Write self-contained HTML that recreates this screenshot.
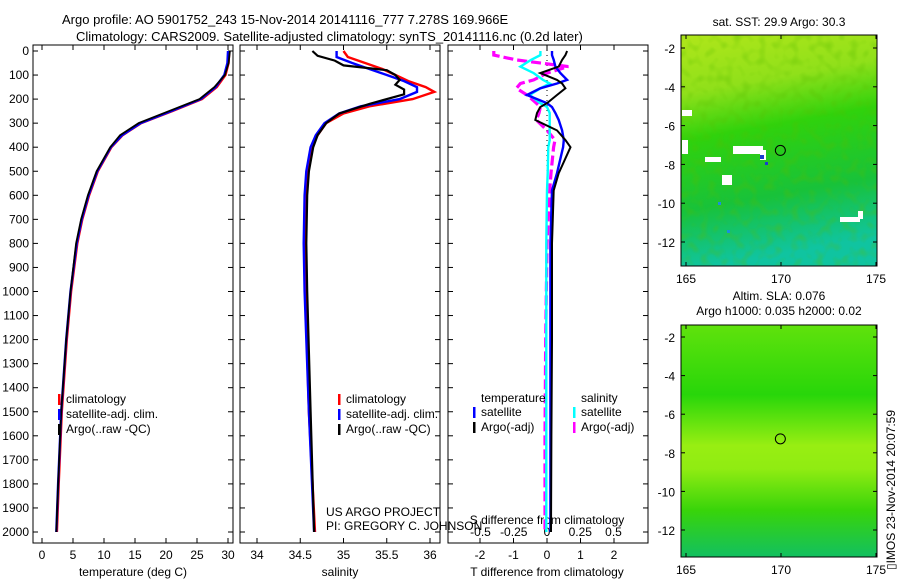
<!DOCTYPE html>
<html><head><meta charset="utf-8"><style>
body{margin:0;background:#fff;}
svg{display:block;font-family:"Liberation Sans",sans-serif;}
text{font-size:12px;fill:#000;}
</style></head><body>
<svg id="c" width="900" height="580" viewBox="0 0 900 580" xmlns="http://www.w3.org/2000/svg">
<defs>
<linearGradient id="g1" x1="0" y1="0" x2="0.15" y2="1">
<stop offset="0" stop-color="#b0e61a"/><stop offset="0.25" stop-color="#90e01a"/><stop offset="0.45" stop-color="#30d20c"/><stop offset="0.75" stop-color="#18c23a"/><stop offset="1" stop-color="#10c4a0"/>
</linearGradient>
<linearGradient id="g2" x1="0" y1="0" x2="0" y2="1">
<stop offset="0" stop-color="#60e20c"/><stop offset="0.3" stop-color="#28d60a"/><stop offset="0.52" stop-color="#98ee12"/><stop offset="0.62" stop-color="#90ec12"/><stop offset="0.8" stop-color="#38d40a"/><stop offset="1" stop-color="#12c060"/>
</linearGradient>
<filter id="noise" x="0" y="0" width="100%" height="100%">
<feTurbulence type="fractalNoise" baseFrequency="0.12" numOctaves="1" seed="3"/>
<feColorMatrix type="matrix" values="0 0 0 0 0.1  0 0 0 0 0.5  0 0 0 0 0  0 0 0 1.6 -0.75"/>
<feComposite in2="SourceGraphic" operator="in"/>
</filter>
</defs>
<text x="62" y="24" style="font-size:13px">Argo profile: AO 5901752_243 15-Nov-2014 20141116_777 7.278S 169.966E</text>
<text x="76" y="41" style="font-size:13px">Climatology: CARS2009. Satellite-adjusted climatology: synTS_20141116.nc (0.2d later)</text>
<g id="p1"></g>
<g id="p2"></g>
<g id="p3"></g>
<g id="m1"></g>
<g id="m2"></g>
<text transform="translate(895,570) rotate(-90)" style="font-size:12px">▯IMOS 23-Nov-2014 20:07:59</text>
</svg>
<script>
const NS="http://www.w3.org/2000/svg";
const svg=document.getElementById('c');
// ---- data ----
const tempDepths=[0,50,100,150,200,250,300,350,400,500,600,700,800,1000,1200,1500,1800,2000];
const tempClim=[30.2,30.1,29.6,28.2,25.8,21,16,13,11.2,9,7.6,6.5,5.7,4.7,4,3.2,2.7,2.4];
const tempSat=[30.0,29.9,29.4,28,25.6,20.8,15.9,12.9,11.1,8.9,7.5,6.4,5.6,4.6,3.9,3.1,2.6,2.3];
const tempArgo=[30.3,30.1,29.5,27.8,25.4,20.5,15.6,12.6,11,8.8,7.4,6.3,5.5,4.6,3.9,3.1,2.6,2.3];
const salDepths=[0,25,50,75,100,125,150,170,200,230,260,300,350,400,500,600,800,1000,1500,2000];
const salClim=[35.0,35.05,35.25,35.45,35.6,35.75,35.95,36.05,35.8,35.3,35.0,34.8,34.7,34.63,34.58,34.56,34.55,34.56,34.6,34.67];
const salSat=[34.92,34.92,35.1,35.3,35.5,35.7,35.85,35.85,35.65,35.2,34.95,34.78,34.68,34.62,34.57,34.55,34.54,34.55,34.6,34.66];
const salArgoDepths=[0,20,40,60,80,100,120,140,160,180,220,260,300,350,400,500,600,800,1000,1500,2000];
const salArgo=[34.64,34.7,34.9,35.0,35.5,35.6,35.65,35.6,35.7,35.7,35.3,34.95,34.8,34.7,34.65,34.6,34.58,34.57,34.58,34.62,34.66];
const dDepths=[0,17,37,65,92,120,135,155,183,217,233,258,287,330,370,400,508,580,800,1200,1600,2000];
const dTsat=[0.15,0.15,0.2,0.25,0.4,0.6,0.3,-0.2,-0.6,0,0.15,0.25,0.35,0.45,0.5,0.48,0.3,0.15,0.1,0.1,0.1,0.1];
const dTargo=[0.6,0.55,0.45,0.35,-0.2,0.3,0.45,0.55,0.3,0,-0.2,-0.3,-0.35,0.3,0.55,0.7,0.35,0.2,0.15,0.15,0.13,0.12];
const dSsat=[-0.05,-0.05,-0.12,-0.2,-0.1,-0.03,0.02,-0.05,-0.13,-0.05,0,0.02,0.02,0.02,0.02,0.01,0.005,0,-0.005,-0.005,-0.005,-0.005];
const dSargo=[-0.4,-0.4,-0.23,0.16,0,-0.1,-0.2,-0.23,-0.15,-0.08,-0.05,-0.06,-0.08,0,0.06,0.05,0.03,0.02,0,-0.01,-0.015,-0.015];
const depthTicks=[0,100,200,300,400,500,600,700,800,900,1000,1100,1200,1300,1400,1500,1600,1700,1800,1900,2000];
const tempTicks=[0,5,10,15,20,25,30];
const salTicks=[34,34.5,35,35.5,36];
const tdTicks=[-2,-1,0,1,2];
const sdTicks=[-0.5,-0.25,0,0.25,0.5];
const sdTickLabels=["-0.5","-0.25","0","0.25","0.5"];
const lonTicks=[165,170,175];
const latTicks=[-2,-4,-6,-8,-10,-12];
const argoLon=169.966, argoLat=-7.278;
// ---- scales ----
const Y0=45,Y1=543;
const yD=d=>51+d*0.2405;
const xT=t=>42+t*6.2;
const xS=s=>257+(s-34)*86.5;
const xTD=t=>547+t*33.5;
const xSD=s=>547+s*133;
function el(tag,attrs,parent,txt){const e=document.createElementNS(NS,tag);for(const k in attrs)e.setAttribute(k,attrs[k]);if(txt!==undefined)e.textContent=txt;(parent||svg).appendChild(e);return e;}
function line(xs,ds,fx,color,g,dash,w){let p=xs.map((v,i)=>fx(v).toFixed(1)+','+yD(ds[i]).toFixed(1)).join(' ');
const e=el('polyline',{points:p,fill:'none',stroke:color,'stroke-width':w||2.4},g);if(dash)e.setAttribute('stroke-dasharray',dash);return e;}
function frame(g,x0,x1){el('rect',{x:x0,y:Y0,width:x1-x0,height:Y1-Y0,fill:'none',stroke:'#000','stroke-width':1},g);}
function xticks(g,vals,fx,labels,y){vals.forEach((v,i)=>{const x=fx(v);
const t1=el('line',{x1:x,x2:x,y1:Y0,y2:Y0+5,stroke:'#000'},g);
el('line',{x1:x,x2:x,y1:Y1,y2:Y1-5,stroke:'#000'},g);
const t=el('text',{x:x,y:y,'text-anchor':'middle'},g,labels?labels[i]:String(v));});}
function legend(g,x,y,items){items.forEach((it,i)=>{el('rect',{x:x,y:y+i*15-9,width:2.5,height:11,fill:it[0]},g);
const t=el('text',{x:x+8,y:y+i*15},g,it[1]);});}
// panel 1
const g1=document.getElementById('p1');frame(g1,33,233);
depthTicks.forEach(d=>{const y=yD(d);el('line',{x1:33,x2:38,y1:y,y2:y,stroke:'#000'},g1);el('line',{x1:233,x2:228,y1:y,y2:y,stroke:'#000'},g1);
const t=el('text',{x:29,y:y+4,'text-anchor':'end'},g1,String(d));});
xticks(g1,tempTicks,xT,null,559);
el('text',{x:133,y:576,'text-anchor':'middle'},g1,'temperature (deg C)');
line(tempClim,tempDepths,xT,'#f00',g1);line(tempSat,tempDepths,xT,'#00f',g1);line(tempArgo,tempDepths,xT,'#000',g1,null,1.8);
legend(g1,58,403,[['#f00','climatology'],['#00f','satellite-adj. clim.'],['#000','Argo(..raw -QC)']]);
// panel 2
const g2=document.getElementById('p2');frame(g2,240,440);
depthTicks.forEach(d=>{const y=yD(d);el('line',{x1:240,x2:245,y1:y,y2:y,stroke:'#000'},g2);el('line',{x1:440,x2:435,y1:y,y2:y,stroke:'#000'},g2);});
xticks(g2,salTicks,xS,null,559);
el('text',{x:340,y:576,'text-anchor':'middle'},g2,'salinity');
line(salClim,salDepths,xS,'#f00',g2);line(salSat,salDepths,xS,'#00f',g2);line(salArgo,salArgoDepths,xS,'#000',g2,null,2.2);
legend(g2,338,403,[['#f00','climatology'],['#00f','satellite-adj. clim.'],['#000','Argo(..raw -QC)']]);
el('text',{x:326,y:516},g2,'US ARGO PROJECT');
el('text',{x:326,y:530},g2,'PI: GREGORY C. JOHNSON');
// panel 3
const g3=document.getElementById('p3');frame(g3,448,648);
depthTicks.forEach(d=>{const y=yD(d);el('line',{x1:448,x2:453,y1:y,y2:y,stroke:'#000'},g3);el('line',{x1:648,x2:643,y1:y,y2:y,stroke:'#000'},g3);});
xticks(g3,tdTicks,xTD,null,559);
sdTicks.forEach((v,i)=>{const t=el('text',{x:xSD(v),y:536,'text-anchor':'middle'},g3,sdTickLabels[i]);});
el('text',{x:547,y:524,'text-anchor':'middle'},g3,'S difference from climatology');
el('text',{x:547,y:576,'text-anchor':'middle'},g3,'T difference from climatology');
el('line',{x1:xTD(0),x2:xTD(0),y1:Y0,y2:Y1,stroke:'#000','stroke-dasharray':'1,4'},g3);
line(dSargo,dDepths,xSD,'#f0f',g3,'10,4',3.2);line(dSsat,dDepths,xSD,'#0ff',g3);line(dTsat,dDepths,xTD,'#00f',g3);line(dTargo,dDepths,xTD,'#000',g3,null,2);
el('text',{x:481,y:402},g3,'temperature');
el('text',{x:581,y:402},g3,'salinity');
legend(g3,473,416,[['#00f','satellite'],['#000','Argo(-adj)']]);
legend(g3,573,416,[['#0ff','satellite'],['#f0f','Argo(-adj)']]);
// maps
function map(g,y0,y1,fill,latTop,latStep,noise){
const x0=681,x1=877;const lx=v=>686+(v-165)*19;const ly=v=>latTop+(-2-v)*latStep;
el('rect',{x:x0,y:y0,width:x1-x0,height:y1-y0,fill:fill},g);
if(noise)el('rect',{x:x0,y:y0,width:x1-x0,height:y1-y0,fill:'#000',filter:'url(#noise)',opacity:0.6},g);
return {lx,ly,x0,x1};}
const m1=document.getElementById('m1');const M1=map(m1,35,266,'url(#g1)',48,19.4,true);
[[682,110,10,6],[682,140,6,14],[733,146,30,8],[760,150,6,10],[705,157,16,5],[840,217,20,5],[858,211,5,8],[722,175,10,10]].forEach(r=>el('rect',{x:r[0],y:r[1],width:r[2],height:r[3],fill:'#fff'},m1));
[[760,155,4,4,'#1a3fd0'],[765,162,3,3,'#1a3fd0'],[718,202,3,3,'#1a8ee0'],[727,230,3,3,'#1a8ee0']].forEach(r=>el('rect',{x:r[0],y:r[1],width:r[2],height:r[3],fill:r[4]},m1));
const m2=document.getElementById('m2');const M2=map(m2,325,557,'url(#g2)',337,19.3,false);
[[m1,M1,35,266],[m2,M2,325,557]].forEach(([g,M,y0,y1])=>{
el('rect',{x:M.x0,y:y0,width:M.x1-M.x0,height:y1-y0,fill:'none',stroke:'#000'},g);
lonTicks.forEach(v=>{const x=M.lx(v);el('line',{x1:x,x2:x,y1:y1,y2:y1-4,stroke:'#000'},g);el('line',{x1:x,x2:x,y1:y0,y2:y0+4,stroke:'#000'},g);
const t=el('text',{x:x,y:y1+17,'text-anchor':'middle'},g,String(v));});
latTicks.forEach(v=>{const y=M.ly(v);el('line',{x1:M.x0,x2:M.x0+4,y1:y,y2:y,stroke:'#000'},g);el('line',{x1:M.x1,x2:M.x1-4,y1:y,y2:y,stroke:'#000'},g);
const t=el('text',{x:M.x0-6,y:y+5,'text-anchor':'end'},g,String(v));});
const c=el('circle',{cx:M.lx(argoLon),cy:M.ly(argoLat),r:5,fill:'none',stroke:'#000'},g);
});
el('text',{x:779,y:26,'text-anchor':'middle'},m1,'sat. SST: 29.9 Argo: 30.3');
el('text',{x:779,y:300,'text-anchor':'middle'},m2,'Altim. SLA: 0.076');
el('text',{x:779,y:315,'text-anchor':'middle'},m2,'Argo h1000: 0.035 h2000: 0.02');
</script>
</body></html>
